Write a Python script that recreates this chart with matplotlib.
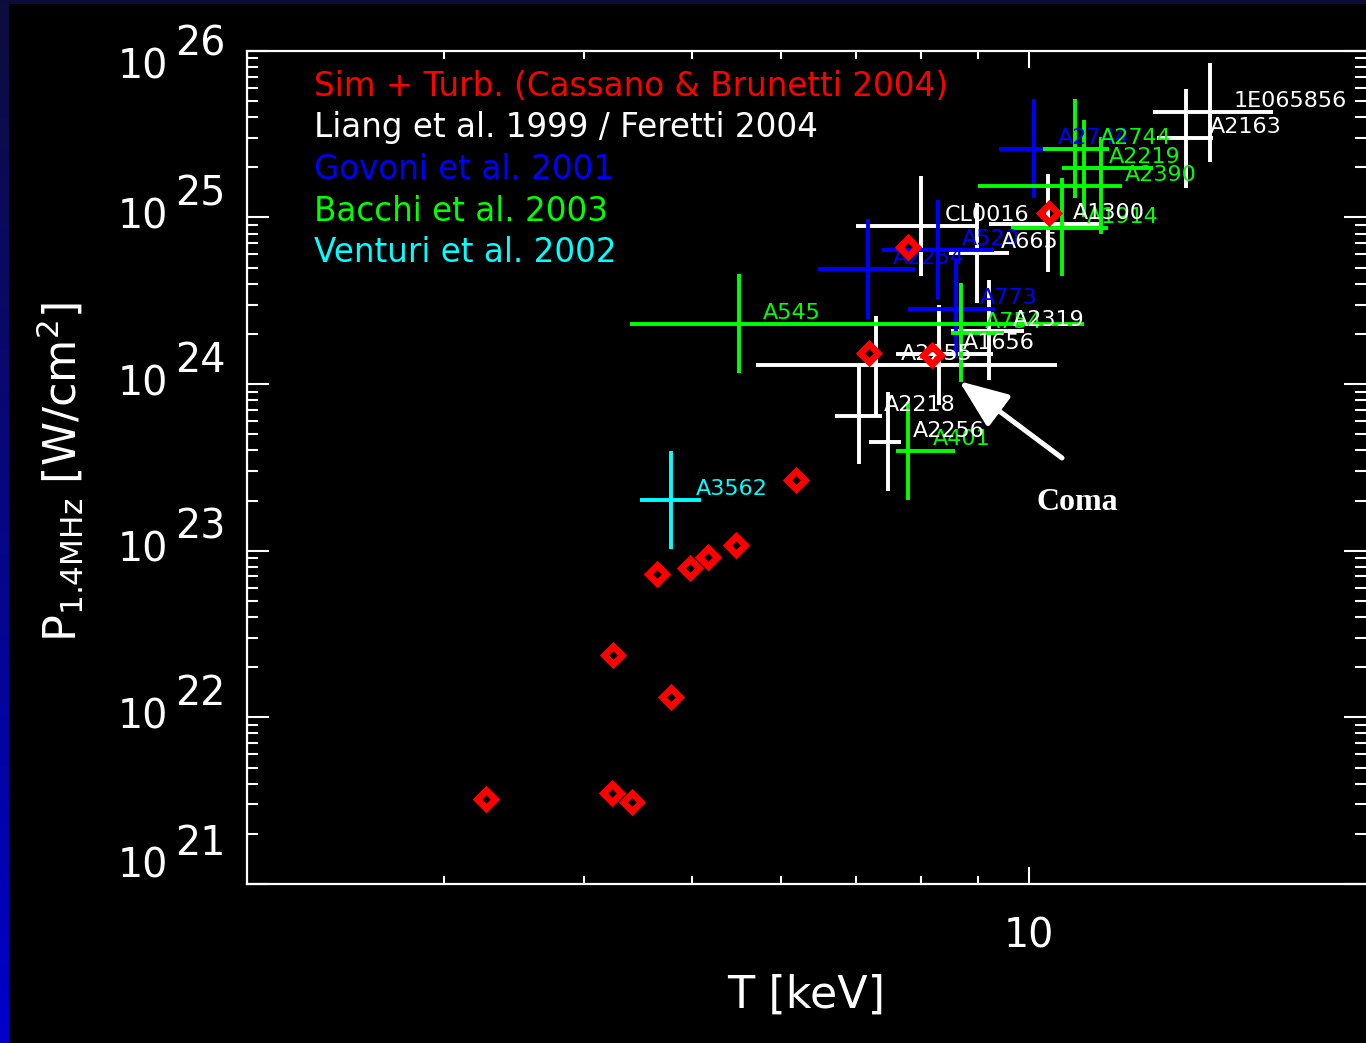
import numpy as np
import matplotlib
matplotlib.use('Agg')
import matplotlib.pyplot as plt
from matplotlib import transforms as mtrans
from matplotlib.ticker import FixedLocator, LogLocator, NullFormatter

# ---------------- data ----------------
# Liang et al. 1999 / Feretti 2004 (white)
liang_names = ['1E065856', 'A2163', 'CL0016', 'A665', 'A1300', 'A2319',
               'A1656', 'A2255', 'A2218', 'A2256']
liang_T   = [14.5, 13.8, 8.0, 8.98, 10.4, 9.2, 8.3, 7.3, 7.05, 7.48]
liang_Tlo = [12.9, 13.0, 7.0, 8.48, 9.21, 8.51, 7.6, 5.7, 6.7, 7.19]
liang_Thi = [16.5, 14.6, 8.97, 9.6, 11.55, 9.9, 9.29, 10.6, 7.39, 7.69]
liang_P   = [4.27e25, 2.98e25, 8.87e24, 6.07e24, 9.13e24, 2.07e24, 1.51e24, 1.30e24, 6.46e23, 4.48e23]
liang_Plo = [2.16e25, 1.51e25, 4.45e24, 3.07e24, 4.67e24, 1.06e24, 7.49e23, 6.50e23, 3.30e23, 2.28e23]
liang_Phi = [8.47e25, 5.89e25, 1.77e25, 1.22e25, 1.82e25, 4.18e24, 2.98e24, 2.56e24, 1.28e24, 8.93e23]

# Govoni et al. 2001 (blue)
govoni_names = ['A2744', 'A2254', 'A520', 'A773']
govoni_T   = [10.1, 7.18, 8.29, 8.60]
govoni_Tlo = [9.40, 6.48, 7.39, 7.80]
govoni_Thi = [10.86, 7.91, 9.30, 9.32]
govoni_P   = [2.58e25, 4.88e24, 6.37e24, 2.81e24]
govoni_Plo = [1.30e25, 2.45e24, 3.23e24, 1.43e24]
govoni_Phi = [5.13e25, 9.74e24, 1.27e25, 5.61e24]

# Bacchi et al. 2003 (green)
bacchi_names = ['A2744', 'A2219', 'A2390', 'A1914', 'A545', 'A754', 'A401']
bacchi_T   = [10.99, 11.2, 11.59, 10.7, 5.5, 8.69, 7.8]
bacchi_Tlo = [10.29, 10.7, 9.0, 9.63, 4.4, 8.51, 7.6]
bacchi_Thi = [11.79, 12.89, 12.1, 11.75, 11.2, 9.5, 8.59]
bacchi_P   = [2.58e25, 1.97e25, 1.55e25, 8.67e24, 2.29e24, 2.01e24, 3.99e23]
bacchi_Plo = [1.30e25, 1.01e25, 7.92e24, 4.45e24, 1.16e24, 1.03e24, 2.02e23]
bacchi_Phi = [5.13e25, 3.84e25, 3.05e25, 1.72e25, 4.58e24, 4.01e24, 7.84e23]

# Venturi et al. 2002 (cyan)
venturi_names = ['A3562']
venturi_T   = [4.79]
venturi_Tlo = [4.49]
venturi_Thi = [5.09]
venturi_P   = [2.02e23]
venturi_Plo = [1.03e23]
venturi_Phi = [3.97e23]

# Sim + Turb. (Cassano & Brunetti 2004) (red diamonds)
sim_T = [3.27, 4.24, 4.42, 4.25, 4.79, 4.65, 4.98, 5.16, 5.47, 6.19, 7.19, 8.18, 7.80, 10.42]
sim_P = [3.23e21, 3.51e21, 3.12e21, 2.37e22, 1.33e22, 7.26e22, 7.85e22, 9.22e22,
         1.08e23, 2.66e23, 1.54e24, 1.50e24, 6.62e24, 1.06e25]

legend_texts = ['Sim + Turb. (Cassano & Brunetti 2004)',
                'Liang et al. 1999 / Feretti 2004',
                'Govoni et al. 2001',
                'Bacchi et al. 2003',
                'Venturi et al. 2002']
legend_colors = ['#ff0000', '#ffffff', '#0000ff', '#00ff00', '#00ffff']

y_decades = [21, 22, 23, 24, 25, 26]
x_minor_ticks = [3, 4, 5, 6, 7, 8, 9]
x_major_ticks = [10]

coma_tip = (8.66, 1.04e24)
coma_tail = (10.70, 3.60e23)
coma_text_pos = (11.04, 1.94e23)

# ---------------- figure ----------------
W, H = 1366, 1043
fig = plt.figure(figsize=(W / 100, H / 100), dpi=100, facecolor='black')

# decorative border (slide background)
strip = fig.add_axes([0, 0, 9 / W, 1])
grad = np.linspace(0, 1, 256)[:, None]
top_c = np.array([0.05, 0.05, 0.24])
bot_c = np.array([0.0, 0.0, 0.80])
img = top_c[None, None, :] * (1 - grad[:, :, None]) + bot_c[None, None, :] * grad[:, :, None]
strip.imshow(img, aspect='auto')
strip.axis('off')
fig.patches.append(plt.Rectangle((0, 1 - 4 / H), 1, 4 / H, transform=fig.transFigure,
                                 facecolor='#0b0b3c', edgecolor='none', zorder=0))

ax = fig.add_axes([247 / W, 1 - 884 / H, 1119 / W, (884 - 50.7) / H])
ax.set_facecolor('black')
ax.set_xscale('log')
ax.set_yscale('log')
ax.set_xlim(2, 20)
ax.set_ylim(1e21, 1e26)

for s in ['left', 'bottom', 'top']:
    ax.spines[s].set_color('white')
    ax.spines[s].set_linewidth(1.6)
ax.spines['right'].set_visible(False)

ax.xaxis.set_major_locator(FixedLocator(x_major_ticks))
ax.xaxis.set_minor_locator(FixedLocator(x_minor_ticks))
ax.yaxis.set_major_locator(FixedLocator([10.0 ** d for d in y_decades]))
ax.yaxis.set_minor_locator(LogLocator(base=10, subs=np.arange(2, 10), numticks=50))
ax.xaxis.set_minor_formatter(NullFormatter())
ax.yaxis.set_minor_formatter(NullFormatter())
ax.tick_params(which='both', direction='in', top=True, right=True, colors='white',
               labelbottom=False, labelleft=False, width=1.5)
ax.tick_params(axis='x', which='major', length=12)
ax.tick_params(axis='x', which='minor', length=6)
ax.tick_params(axis='y', which='major', length=16)
ax.tick_params(axis='y', which='minor', length=8)

FONT = 'DejaVu Sans'

# y tick labels: "10" plus same-size exponent
ytrans = mtrans.blended_transform_factory(ax.transAxes, ax.transData)
for d in y_decades:
    shift = 0.0
    if d == y_decades[-1]:
        shift = -17 / 100
    elif d == y_decades[0]:
        shift = 17 / 100
    off = mtrans.ScaledTranslation(0, shift, fig.dpi_scale_trans)
    ax.text(-79 / 1119, 10.0 ** d, '10', transform=ytrans + off, ha='right', va='center',
            color='white', fontsize=28.5, family=FONT, clip_on=False)
    off2 = mtrans.ScaledTranslation(0, shift + 23 / 100, fig.dpi_scale_trans)
    ax.text(-72 / 1119, 10.0 ** d, str(d), transform=ytrans + off2, ha='left', va='center',
            color='white', fontsize=28.5, family=FONT, clip_on=False)

xtrans = mtrans.blended_transform_factory(ax.transData, ax.transAxes)
for t in x_major_ticks:
    ax.text(t, -53 / 833.3, str(t), transform=xtrans, ha='center', va='center',
            color='white', fontsize=28.5, family=FONT, clip_on=False)

ax.set_xlabel('T [keV]', color='white', fontsize=32, family=FONT)
ax.xaxis.set_label_coords(0.5, -111 / 833.3)
ax.xaxis.label.set_va('center')
ax.set_ylabel(r'P$_{\mathrm{1.4MHz}}$ [W/cm$^{\mathrm{2}}$]', color='white', fontsize=32, family=FONT)
ax.yaxis.set_label_coords(-187 / 1119, 0.494)
ax.yaxis.label.set_va('center')

# ---------------- data marks ----------------
datasets = [
    (liang_names, liang_T, liang_Tlo, liang_Thi, liang_P, liang_Plo, liang_Phi, '#ffffff', 2.0, 4.3),
    (govoni_names, govoni_T, govoni_Tlo, govoni_Thi, govoni_P, govoni_Plo, govoni_Phi, '#0000ff', 2.1, 4.0),
    (bacchi_names, bacchi_T, bacchi_Tlo, bacchi_Thi, bacchi_P, bacchi_Plo, bacchi_Phi, '#00ff00', 2.2, 4.1),
    (venturi_names, venturi_T, venturi_Tlo, venturi_Thi, venturi_P, venturi_Plo, venturi_Phi, '#00ffff', 2.3, 4.2),
]
for names, T, Tlo, Thi, P, Plo, Phi, col, zl, zt in datasets:
    T = np.array(T); P = np.array(P)
    xerr = [T - np.array(Tlo), np.array(Thi) - T]
    yerr = [P - np.array(Plo), np.array(Phi) - P]
    ax.errorbar(T, P, xerr=xerr, yerr=yerr, fmt='none', ecolor=col, elinewidth=2.8,
                capsize=0, zorder=zl)
    for n, t, p in zip(names, T, P):
        ax.annotate(n, (t, p), xytext=(17.5, 8), textcoords='offset points',
                    ha='left', va='center', color=col, fontsize=16, family=FONT, zorder=zt)

ax.plot(sim_T, sim_P, linestyle='none', marker='D', markersize=9.5, markeredgewidth=4.8,
        markerfacecolor='none', markeredgecolor='#ff0000', zorder=5)

# legend texts
for i, (txt, col) in enumerate(zip(legend_texts, legend_colors)):
    ax.text(0.0595, 0.946 - 0.05 * i, txt, transform=ax.transAxes, ha='left', va='baseline',
            color=col, fontsize=23.5, family=FONT, zorder=6)

# Coma annotation
ax.annotate('', xy=coma_tip, xytext=coma_tail,
            arrowprops=dict(arrowstyle='-|>,head_length=0.75,head_width=0.3', lw=3.6,
                            color='white', mutation_scale=40, shrinkA=0, shrinkB=0),
            zorder=6)
ax.text(coma_text_pos[0], coma_text_pos[1], 'Coma', ha='center', va='center', color='white',
        fontsize=23, fontweight='bold', family='Liberation Serif', zorder=6)

fig.savefig('out.png', dpi=100, facecolor='black')
